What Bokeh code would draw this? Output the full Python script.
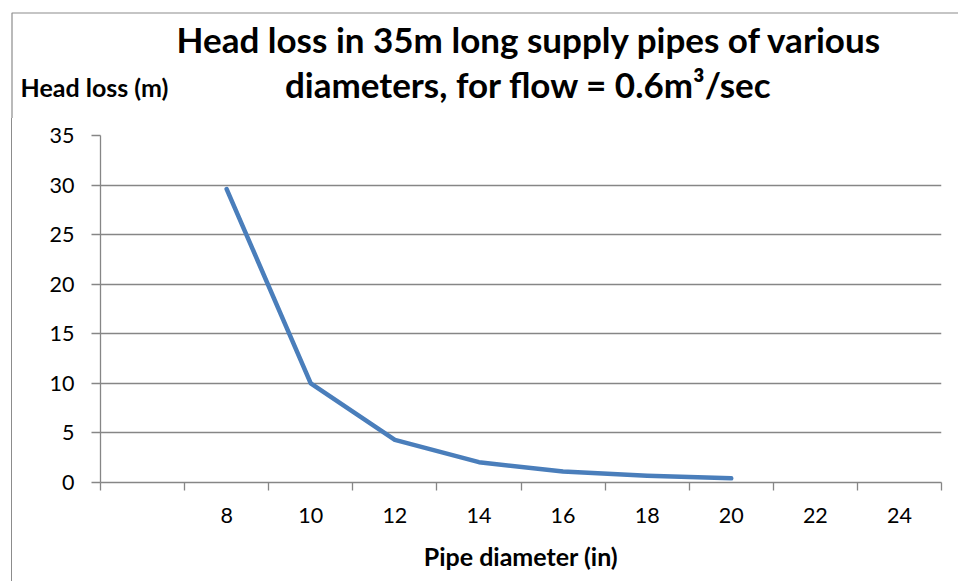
from bokeh.plotting import figure
from bokeh.models import FixedTicker, Label, Range1d
from bokeh.layouts import column
from bokeh.embed import file_html
from bokeh.resources import INLINE

# ---- data ----
pipe_diameter = [8, 10, 12, 14, 16, 18, 20]
head_loss = [29.6, 10.0, 4.3, 2.05, 1.1, 0.68, 0.42]
x_tick_values = [8, 10, 12, 14, 16, 18, 20, 22, 24]
x_tick_labels = ["8", "10", "12", "14", "16", "18", "20", "22", "24"]
category_edges = [5, 7, 9, 11, 13, 15, 17, 19, 21, 23, 25]
y_tick_values = [0, 5, 10, 15, 20, 25, 30, 35]

title_line1 = "Head loss in 35m long supply pipes of various"
title_line2 = "diameters, for flow = 0.6m\u00b3/sec"
y_title = "Head loss (m)"
x_title = "Pipe diameter (in)"

# ---- layout geometry (page pixels) ----
W, H = 958, 581
HEAD_H = 118
FR_L, FR_R, FR_T, FR_B = 100, 941, 135, 482
BORDER_X, BORDER_Y = 11.5, 12.5
GRAY = "#868686"
BORDER_GRAY = "#8C8C8C"
FONT = "Lato"
TITLE_SIZE = 35
LABEL_SIZE = 25
BASE_SHIFT = 0.38  # label anchor -> rendered baseline, in em

# ---- header (titles): a figure whose frame is the whole canvas, data = pixels ----
head = figure(width=W, height=HEAD_H, output_backend="svg", toolbar_location=None,
              x_range=Range1d(0, W), y_range=Range1d(HEAD_H, 0),
              x_axis_type=None, y_axis_type=None, frame_align=False,
              min_border_left=0, min_border_right=0, min_border_top=0, min_border_bottom=0)
head.outline_line_color = None
head.grid.visible = False
head.line(x=[BORDER_X, BORDER_X, W], y=[HEAD_H, BORDER_Y, BORDER_Y],
          line_color=BORDER_GRAY, line_width=1.2)
head.add_layout(Label(x=529, y=52 - BASE_SHIFT * TITLE_SIZE, text=title_line1,
                      text_align="center", text_baseline="alphabetic", text_font=FONT,
                      text_font_style="bold", text_font_size="%spx" % TITLE_SIZE,
                      text_color="black"))
head.add_layout(Label(x=528, y=97 - BASE_SHIFT * TITLE_SIZE, text=title_line2,
                      text_align="center", text_baseline="alphabetic", text_font=FONT,
                      text_font_style="bold", text_font_size="%spx" % TITLE_SIZE,
                      text_color="black"))
head.add_layout(Label(x=20, y=96 - BASE_SHIFT * LABEL_SIZE, text=y_title,
                      text_align="left", text_baseline="alphabetic", text_font=FONT,
                      text_font_style="bold", text_font_size="%spx" % LABEL_SIZE,
                      text_color="black"))

# ---- main chart ----
p = figure(width=W, height=H - HEAD_H, output_backend="svg", toolbar_location=None,
           x_range=Range1d(5, 25), y_range=Range1d(0, 35), frame_align=False,
           min_border_left=FR_L, min_border_right=W - FR_R,
           min_border_top=FR_T - HEAD_H, min_border_bottom=H - FR_B,
           styles={"background-image": "linear-gradient(%s, %s)" % (BORDER_GRAY, BORDER_GRAY),
                   "background-size": "1px 100%",
                   "background-repeat": "no-repeat",
                   "background-position": "11px 0px"})
p.outline_line_color = None
p.background_fill_color = "white"
p.border_fill_color = None

p.line(pipe_diameter, head_loss, line_color="#4A7EBB", line_width=4.5,
       line_join="round", line_cap="round")

p.xgrid.visible = False
p.ygrid.ticker = FixedTicker(ticks=y_tick_values)
p.ygrid.grid_line_color = GRAY
p.ygrid.grid_line_width = 1.3

ya = p.yaxis[0]
ya.ticker = FixedTicker(ticks=y_tick_values, minor_ticks=[])
ya.axis_line_color = GRAY
ya.axis_line_width = 1.3
ya.major_tick_line_color = GRAY
ya.major_tick_line_width = 1.3
ya.major_tick_out = 9
ya.major_tick_in = 0
ya.minor_tick_out = 0
ya.minor_tick_in = 0
ya.major_label_standoff = 17
ya.major_label_text_font = FONT
ya.major_label_text_font_size = "21.5px"
ya.major_label_text_color = "black"

xa = p.xaxis[0]
xa.ticker = FixedTicker(ticks=x_tick_values, minor_ticks=category_edges)
xa.major_label_overrides = {v: l for v, l in zip(x_tick_values, x_tick_labels)}
xa.axis_line_color = GRAY
xa.axis_line_width = 1.3
xa.major_tick_out = 0
xa.major_tick_in = 0
xa.minor_tick_out = 8
xa.minor_tick_in = 0
xa.minor_tick_line_color = GRAY
xa.minor_tick_line_width = 1.3
xa.major_label_standoff = 17
xa.major_label_text_font = FONT
xa.major_label_text_font_size = "21.5px"
xa.major_label_text_color = "black"
xa.axis_label = x_title
xa.axis_label_standoff = 15
xa.axis_label_text_font = FONT
xa.axis_label_text_font_style = "bold"
xa.axis_label_text_font_size = "25px"
xa.axis_label_text_color = "black"

layout = column(head, p, spacing=0)
open("out.html", "w").write(file_html(layout, INLINE))
